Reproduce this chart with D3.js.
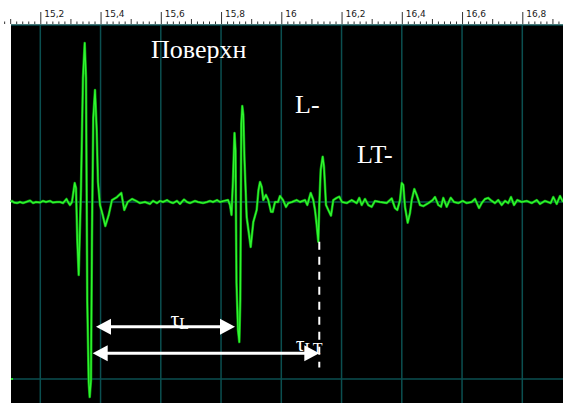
<!DOCTYPE html>
<html>
<head>
<meta charset="utf-8">
<script src="https://cdn.jsdelivr.net/npm/d3@7"></script>
<style>
  html, body { margin: 0; padding: 0; background: #fff; }
  svg { display: block; }
</style>
</head>
<body>
<svg id="chart" width="563" height="403"></svg>
<script>
// Ruler ticks along the time axis (µs)
const timeTicks = [15.2, 15.4, 15.6, 15.8, 16.0, 16.2, 16.4, 16.6, 16.8];
const tickLabels = ["15,2", "15,4", "15,6", "15,8", "16", "16,2", "16,4", "16,6", "16,8"];

// Ultrasonic A-scan: sample times (µs) and normalised amplitude
const times = [
  15.1027, 15.1061, 15.1127, 15.1227, 15.1326, 15.1426, 15.1525, 15.1658, 15.1758, 15.1857,
  15.1990, 15.2090, 15.2189, 15.2322, 15.2422, 15.2554, 15.2654, 15.2754, 15.2870, 15.2920,
  15.2986, 15.3052, 15.3142, 15.3185, 15.3228, 15.3275, 15.3351, 15.3417, 15.3474, 15.3517,
  15.3560, 15.3607, 15.3640, 15.3683, 15.3716, 15.3759, 15.3816, 15.3872, 15.3915, 15.3982,
  15.4071, 15.4158, 15.4271, 15.4380, 15.4546, 15.4689, 15.4788, 15.4901, 15.5044, 15.5177,
  15.5310, 15.5476, 15.5641, 15.5741, 15.5874, 15.5973, 15.6073, 15.6206, 15.6305, 15.6405,
  15.6538, 15.6637, 15.6770, 15.6870, 15.6969, 15.7135, 15.7235, 15.7401, 15.7534, 15.7633,
  15.7733, 15.7866, 15.7965, 15.8098, 15.8231, 15.8297, 15.8347, 15.8397, 15.8447, 15.8480,
  15.8513, 15.8563, 15.8606, 15.8639, 15.8672, 15.8705, 15.8739, 15.8778, 15.8851, 15.8984,
  15.9071, 15.9183, 15.9243, 15.9293, 15.9349, 15.9403, 15.9492, 15.9568, 15.9658, 15.9715,
  15.9791, 15.9891, 15.9957, 16.0057, 16.0156, 16.0232, 16.0355, 16.0511, 16.0621, 16.0787,
  16.0863, 16.0976, 16.1062, 16.1119, 16.1175, 16.1228, 16.1261, 16.1308, 16.1374, 16.1417,
  16.1484, 16.1560, 16.1650, 16.1726, 16.1839, 16.1925, 16.2015, 16.2171, 16.2337, 16.2503,
  16.2589, 16.2669, 16.2778, 16.2888, 16.3001, 16.3110, 16.3276, 16.3499, 16.3665, 16.3774,
  16.3851, 16.3940, 16.3997, 16.4050, 16.4106, 16.4196, 16.4272, 16.4329, 16.4415, 16.4495,
  16.4604, 16.4714, 16.4880, 16.5026, 16.5102, 16.5212, 16.5301, 16.5378, 16.5490, 16.5623,
  16.5733, 16.5876, 16.6022, 16.6154, 16.6320, 16.6430, 16.6563, 16.6652, 16.6762, 16.6871,
  16.6984, 16.7094, 16.7203, 16.7316, 16.7426, 16.7535, 16.7625, 16.7724, 16.7834, 16.7980,
  16.8146, 16.8312, 16.8478, 16.8588, 16.8754, 16.8943, 16.9029, 16.9142, 16.9251, 16.9351
];
const amps = [
  0.000, 0.006, -0.003, -0.006, 0.000, -0.006, 0.000, 0.008, -0.006, 0.000,
  -0.003, 0.006, 0.000, 0.006, -0.003, 0.000, 0.000, -0.006, 0.017, 0.000,
  -0.017, 0.000, 0.107, 0.079, -0.215, -0.412, 0.079, 0.701, 0.898, 0.701,
  -0.565, -1.017, -1.102, -1.006, -0.186, 0.475, 0.633, 0.407, 0.113, -0.017,
  -0.073, -0.136, -0.073, 0.011, 0.028, 0.051, -0.045, 0.000, 0.017, 0.006,
  -0.006, 0.000, -0.011, 0.006, -0.006, 0.006, 0.000, 0.011, 0.000, -0.006,
  0.006, -0.011, 0.014, 0.000, -0.006, 0.006, 0.000, -0.006, 0.000, 0.006,
  0.000, 0.011, 0.000, 0.006, 0.011, -0.017, -0.073, 0.124, 0.390, 0.294,
  -0.458, -0.723, -0.791, -0.554, 0.441, 0.542, 0.492, 0.237, -0.085, -0.254,
  -0.113, -0.045, 0.068, 0.113, 0.085, 0.011, 0.040, 0.011, -0.055, -0.056,
  0.000, 0.000, 0.034, 0.011, -0.028, -0.006, 0.000, 0.011, 0.000, 0.011,
  -0.017, 0.051, 0.011, -0.045, -0.130, -0.224, -0.017, 0.181, 0.256, 0.199,
  -0.017, -0.045, -0.077, 0.011, 0.023, 0.030, 0.000, -0.006, 0.011, -0.006,
  0.023, -0.017, 0.017, -0.017, -0.027, 0.006, 0.000, -0.006, 0.020, -0.034,
  -0.045, 0.011, 0.107, 0.096, -0.027, -0.117, -0.062, 0.011, 0.073, 0.040,
  -0.017, -0.023, -0.006, 0.011, 0.028, -0.017, -0.027, 0.023, -0.027, 0.024,
  0.000, -0.006, 0.006, -0.006, 0.000, 0.017, -0.034, -0.006, 0.017, 0.023,
  0.006, -0.006, 0.011, -0.017, 0.006, -0.006, 0.028, -0.017, 0.011, 0.000,
  0.006, -0.006, 0.011, -0.011, 0.006, -0.006, 0.028, -0.011, 0.034, 0.000
];

// Echo labels and time-of-flight annotations (data units)
const echoLabels = [
  { text: "Поверхн", t: 15.5675, a: 0.814 },
  { text: "L-",      t: 16.0455, a: 0.501 },
  { text: "LT-",     t: 16.2513, a: 0.220 }
];
const spans = [
  { from: 15.3849, to: 15.8463, level: -0.705, sym: "τ", sub: "L",  labelT: 15.6322, labelA: -0.700 },
  { from: 15.3739, to: 16.1261, level: -0.855, sym: "τ", sub: "LT", labelT: 16.0476, labelA: -0.842 }
];
const markerT = 16.1261, markerTop = -0.224, markerBottom = -0.935;

const W = 563, H = 403;
const svg = d3.select("#chart");

const x = d3.scaleLinear().domain([15.2, 16.8]).range([40.3, 522.3]);
const y = d3.scaleLinear().domain([-1, 1]).range([379, 25]);

const plotLeft = 11, plotTop = 25;
const gridColor = "#0b4f50";

// background
svg.append("rect").attr("width", W).attr("height", H).attr("fill", "#fff");
svg.append("rect")
  .attr("x", plotLeft).attr("y", plotTop)
  .attr("width", W - plotLeft).attr("height", H - plotTop)
  .attr("fill", "#000");

// grid
const grid = svg.append("g").attr("stroke", gridColor).attr("stroke-width", 1.5);
grid.selectAll("line.v").data(timeTicks).join("line")
  .attr("class", "v")
  .attr("x1", d => x(d)).attr("x2", d => x(d))
  .attr("y1", plotTop).attr("y2", H);
grid.selectAll("line.h").data([1, 0, -1]).join("line")
  .attr("class", "h")
  .attr("x1", plotLeft).attr("x2", W)
  .attr("y1", d => y(d)).attr("y2", d => y(d));

// ruler
const rulerY = 24;
const minorVals = d3.range(754, 847).filter(i => i % 10 !== 0).map(i => i / 50);
const smallVals = minorVals.filter(v => Math.round(v * 50) % 5 !== 0);
const midVals = minorVals.filter(v => Math.round(v * 50) % 5 === 0);

const ruler = svg.append("g").attr("transform", `translate(0,${rulerY})`);
ruler.append("g")
  .call(d3.axisTop(x).tickValues(smallVals).tickSize(2.5).tickFormat(""))
  .call(g => g.select(".domain").remove());
ruler.append("g")
  .call(d3.axisTop(x).tickValues(midVals).tickSize(5).tickFormat(""))
  .call(g => g.select(".domain").remove());
ruler.append("g")
  .call(d3.axisTop(x).tickValues(timeTicks).tickSize(12)
    .tickFormat((d, i) => tickLabels[i]))
  .call(g => g.select(".domain").remove())
  .call(g => g.selectAll("text")
    .attr("text-anchor", "start")
    .attr("x", 3.5).attr("y", -7.5).attr("dy", 0)
    .attr("fill", "#1a1a1a")
    .style("font-family", "'DejaVu Sans', Verdana, sans-serif")
    .style("font-size", "9px"));
ruler.selectAll("line").attr("stroke", "#333").attr("stroke-width", 1);

// level marker at the left edge
svg.append("rect").attr("x", plotLeft).attr("y", y(-1) - 1)
  .attr("width", 2).attr("height", 2).attr("fill", "#22dd22");

// waveform
const pts = times.map((t, i) => [t, amps[i]]);
const line = d3.line().x(d => x(d[0])).y(d => y(d[1]));
const wave = svg.append("g").attr("fill", "none").attr("stroke-linejoin", "round");
wave.append("path").attr("d", line(pts)).attr("stroke", "#0a960a").attr("stroke-width", 2.6);
wave.append("path").attr("d", line(pts)).attr("stroke", "#30f530").attr("stroke-width", 1.4);

// dashed marker from the LT echo down to the span arrow
svg.append("line")
  .attr("x1", x(markerT)).attr("x2", x(markerT))
  .attr("y1", y(markerTop)).attr("y2", y(markerBottom))
  .attr("stroke", "#fff").attr("stroke-width", 2)
  .attr("stroke-dasharray", "8,7");

// double-headed time-of-flight arrows
const headLen = 15, headHalf = 8;
const arrows = svg.append("g");
spans.forEach(s => {
  const x0 = x(s.from), x1 = x(s.to), yy = y(s.level);
  arrows.append("line")
    .attr("x1", x0 + headLen - 1).attr("x2", x1 - headLen + 1)
    .attr("y1", yy).attr("y2", yy)
    .attr("stroke", "#fff").attr("stroke-width", 3);
  arrows.append("polygon")
    .attr("points", [[x0, yy], [x0 + headLen, yy - headHalf], [x0 + headLen, yy + headHalf]].join(" "))
    .attr("fill", "#fff");
  arrows.append("polygon")
    .attr("points", [[x1, yy], [x1 - headLen, yy - headHalf], [x1 - headLen, yy + headHalf]].join(" "))
    .attr("fill", "#fff");
  const lbl = arrows.append("text")
    .attr("x", x(s.labelT)).attr("y", y(s.labelA))
    .attr("fill", "#fff")
    .style("font-family", "'Liberation Serif', 'Times New Roman', serif");
  lbl.append("tspan").style("font-size", "22px").text(s.sym);
  lbl.append("tspan").style("font-size", "16px").attr("dy", 3).text(s.sub);
});

// echo labels
svg.append("g").selectAll("text").data(echoLabels).join("text")
  .attr("x", d => x(d.t)).attr("y", d => y(d.a))
  .attr("fill", "#fff")
  .style("font-family", "'Liberation Serif', 'Times New Roman', serif")
  .style("font-size", "26px")
  .text(d => d.text);
</script>
</body>
</html>
